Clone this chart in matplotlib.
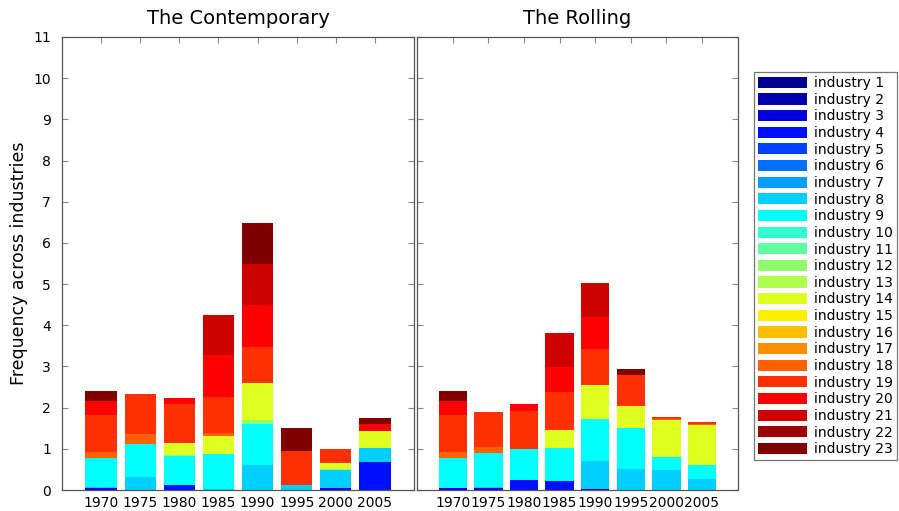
import numpy as np
import matplotlib
matplotlib.use("Agg")
import matplotlib.pyplot as plt
from matplotlib.patches import Patch

years = [1970, 1975, 1980, 1985, 1990, 1995, 2000, 2005]
industries = [f"industry {i}" for i in range(1, 24)]
titles = ["The Contemporary", "The Rolling"]
ylabel = "Frequency across industries"

# rows = industry 1..23, columns = years
contemporary = [
    [0, 0, 0, 0, 0, 0, 0, 0],                       # 1
    [0, 0, 0, 0, 0, 0, 0, 0],                       # 2
    [0.05, 0, 0, 0, 0, 0, 0.06, 0],                 # 3
    [0, 0, 0.12, 0, 0, 0, 0, 0.68],                 # 4
    [0, 0, 0, 0, 0, 0, 0, 0],                       # 5
    [0, 0, 0, 0, 0, 0, 0, 0],                       # 6
    [0, 0, 0, 0, 0, 0, 0, 0],                       # 7
    [0.02, 0.31, 0, 0.02, 0.61, 0.11, 0.43, 0.34],  # 8
    [0.70, 0.81, 0.70, 0.85, 1.00, 0, 0, 0],        # 9
    [0, 0, 0, 0, 0, 0, 0, 0],                       # 10
    [0, 0, 0, 0, 0, 0, 0, 0],                       # 11
    [0, 0, 0.02, 0, 0.09, 0, 0.01, 0],              # 12
    [0, 0, 0, 0, 0, 0, 0, 0],                       # 13
    [0, 0, 0.30, 0.43, 0.90, 0, 0.15, 0.42],        # 14
    [0, 0, 0, 0, 0, 0, 0, 0],                       # 15
    [0, 0, 0, 0, 0, 0, 0, 0],                       # 16
    [0, 0, 0, 0, 0, 0, 0, 0],                       # 17
    [0.16, 0.25, 0, 0.08, 0, 0, 0, 0],              # 18
    [0.89, 0.96, 0.96, 0.89, 0.88, 0.84, 0.35, 0],  # 19
    [0.34, 0, 0.14, 1.01, 1.01, 0, 0, 0.16],        # 20
    [0, 0, 0, 0.98, 0.99, 0, 0, 0],                 # 21
    [0, 0.01, 0, 0, 0, 0, 0, 0],                    # 22
    [0.25, 0, 0, 0, 1.01, 0.56, 0, 0.16],           # 23
]

rolling = [
    [0, 0, 0, 0, 0, 0, 0, 0],                       # 1
    [0, 0, 0, 0, 0, 0, 0, 0],                       # 2
    [0.04, 0.04, 0, 0, 0.03, 0, 0, 0],              # 3
    [0, 0, 0.24, 0.22, 0, 0, 0, 0],                 # 4
    [0, 0, 0, 0, 0, 0, 0, 0],                       # 5
    [0, 0, 0, 0, 0, 0, 0, 0],                       # 6
    [0, 0, 0, 0, 0, 0, 0, 0],                       # 7
    [0.02, 0.03, 0, 0, 0.68, 0.51, 0.49, 0.27],     # 8
    [0.71, 0.83, 0.75, 0.79, 1.01, 1.00, 0.32, 0.34],  # 9
    [0, 0, 0, 0, 0, 0, 0, 0],                       # 10
    [0, 0, 0, 0, 0, 0, 0, 0],                       # 11
    [0, 0, 0, 0, 0, 0, 0, 0],                       # 12
    [0, 0, 0, 0, 0, 0, 0, 0],                       # 13
    [0, 0, 0, 0.44, 0.83, 0.52, 0.90, 0.98],        # 14
    [0, 0, 0, 0, 0, 0, 0, 0],                       # 15
    [0, 0, 0, 0, 0, 0, 0, 0],                       # 16
    [0, 0, 0, 0, 0, 0, 0, 0],                       # 17
    [0.15, 0.14, 0, 0, 0, 0, 0.02, 0.02],           # 18
    [0.90, 0.85, 0.94, 0.93, 0.87, 0.77, 0.04, 0.03],  # 19
    [0.34, 0, 0.17, 0.61, 0.77, 0, 0, 0],           # 20
    [0, 0, 0, 0.83, 0.84, 0, 0, 0],                 # 21
    [0, 0, 0, 0, 0, 0, 0, 0],                       # 22
    [0.25, 0, 0, 0, 0, 0.13, 0, 0],                 # 23
]


def matlab_jet64():
    m = 64
    n = int(np.ceil(m / 4))
    u = np.concatenate([np.arange(1, n + 1) / n, np.ones(n - 1), np.arange(n, 0, -1) / n])
    g = int(np.ceil(n / 2)) - (1 if m % 4 == 1 else 0) + np.arange(1, len(u) + 1)
    r = g + n
    b = g - n
    g = g[g <= m]
    r = r[r <= m]
    b = b[b >= 1]
    J = np.zeros((m, 3))
    J[r - 1, 0] = u[:len(r)]
    J[g - 1, 1] = u[:len(g)]
    J[b - 1, 2] = u[-len(b):]
    return J


jet = matlab_jet64()
nser = len(industries)
colors = [jet[min(int(np.floor(k * 64 / (nser - 1))), 63)] for k in range(nser)]

plt.rcParams['font.family'] = ['DejaVu Sans']
W, H = 899, 511
fig = plt.figure(figsize=(W / 100, H / 100), dpi=100)

ax_pos = [
    [62 / W, (H - 490) / H, (414 - 62) / W, (490 - 37) / H],
    [417.3 / W, (H - 490) / H, (737.5 - 417.3) / W, (490 - 37) / H],
]
spine_col = '#555555'

for p, (data, title) in enumerate(zip([contemporary, rolling], titles)):
    ax = fig.add_axes(ax_pos[p])
    ax.set_axisbelow(True)
    bottom = np.zeros(len(years))
    for k in range(nser):
        vals = np.array(data[k], dtype=float)
        ax.bar(years, vals, width=4.0, bottom=bottom, color=colors[k],
               edgecolor='none', linewidth=0)
        bottom += vals
    ax.set_xlim(1965, 2010)
    ax.set_ylim(0, 11)
    ax.set_yticks(range(0, 12))
    ax.set_xticks(years)
    ax.set_xticklabels([str(y) for y in years], fontsize=10)
    ax.tick_params(direction='in', top=True, right=True, length=4,
                   color='#888888', width=0.8, labelsize=10, pad=4)
    ax.tick_params(axis='y', pad=8)
    for s in ax.spines.values():
        s.set_color(spine_col)
        s.set_linewidth(0.9)
    ax.set_title(title, fontsize=14, pad=9)
    if p == 0:
        ax.set_ylabel(ylabel, fontsize=12.5, labelpad=4)
    else:
        ax.set_yticklabels([])

handles = [Patch(facecolor=colors[k], edgecolor='none') for k in range(nser)]
leg = fig.legend(handles, industries, loc='upper left',
                 bbox_to_anchor=(754 / W, 1 - 72 / H), fontsize=10,
                 frameon=True, fancybox=False, labelspacing=0.19,
                 handlelength=3.5, handleheight=0.86, handletextpad=0.5,
                 borderpad=0.3, borderaxespad=0)
leg.get_frame().set_edgecolor('#555555')
leg.get_frame().set_linewidth(0.9)

fig.savefig('out.png', dpi=100)
